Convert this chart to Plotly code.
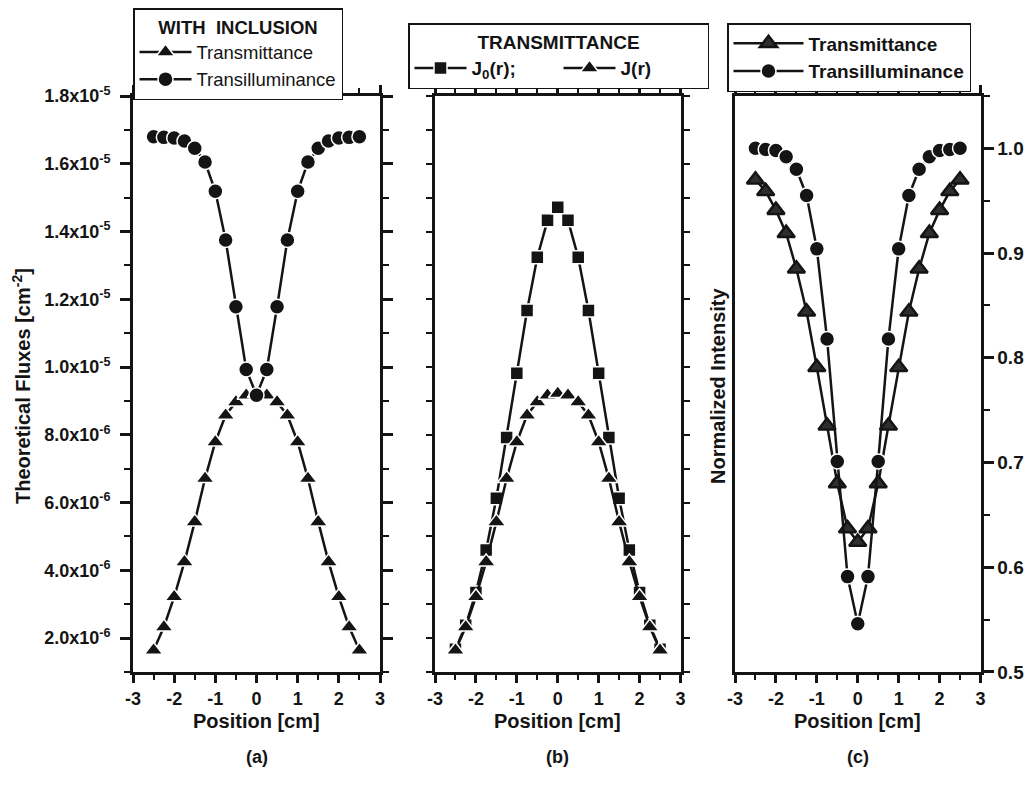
import plotly.graph_objects as go

W, H = 1032, 794

# ---------------- data ----------------
positions = [-2.5, -2.25, -2.0, -1.75, -1.5, -1.25, -1.0, -0.75, -0.5, -0.25, 0.0,
             0.25, 0.5, 0.75, 1.0, 1.25, 1.5, 1.75, 2.0, 2.25, 2.5]

# panel (a) fluxes, units of 1e-6 cm^-2
transmittance_a = [1.64, 2.33, 3.22, 4.25, 5.43, 6.71, 7.79, 8.58, 8.97, 9.17, 9.22,
                   9.17, 8.97, 8.58, 7.79, 6.71, 5.43, 4.25, 3.22, 2.33, 1.64]
transillum_a = [16.80, 16.78, 16.76, 16.67, 16.46, 16.05, 15.19, 13.75, 11.78, 9.93, 9.17,
                9.93, 11.78, 13.75, 15.19, 16.05, 16.46, 16.67, 16.76, 16.78, 16.80]

# panel (b) transmittance, units of 1e-6 cm^-2
j0_b = [1.67, 2.38, 3.35, 4.60, 6.13, 7.92, 9.82, 11.67, 13.24, 14.33, 14.72,
        14.33, 13.24, 11.67, 9.82, 7.92, 6.13, 4.60, 3.35, 2.38, 1.67]
j_b = [1.64, 2.33, 3.22, 4.25, 5.43, 6.71, 7.79, 8.58, 8.97, 9.17, 9.22,
       9.17, 8.97, 8.58, 7.79, 6.71, 5.43, 4.25, 3.22, 2.33, 1.64]

# panel (c) normalized intensity
transmittance_c = [0.970, 0.959, 0.941, 0.919, 0.885, 0.844, 0.791, 0.735, 0.680, 0.637, 0.624,
                   0.637, 0.680, 0.735, 0.791, 0.844, 0.885, 0.919, 0.941, 0.959, 0.970]
transillum_c = [1.000, 0.999, 0.998, 0.992, 0.980, 0.955, 0.904, 0.818, 0.701, 0.591, 0.546,
                0.591, 0.701, 0.818, 0.904, 0.955, 0.980, 0.992, 0.998, 0.999, 1.000]

flux_ticks = [2e-6, 4e-6, 6e-6, 8e-6, 1e-5, 1.2e-5, 1.4e-5, 1.6e-5, 1.8e-5]
flux_ticktext = ["2.0x10<sup>-6</sup>", "4.0x10<sup>-6</sup>", "6.0x10<sup>-6</sup>",
                 "8.0x10<sup>-6</sup>", "1.0x10<sup>-5</sup>", "1.2x10<sup>-5</sup>",
                 "1.4x10<sup>-5</sup>", "1.6x10<sup>-5</sup>", "1.8x10<sup>-5</sup>"]
x_ticks = [-3, -2, -1, 0, 1, 2, 3]
norm_ticks = [0.5, 0.6, 0.7, 0.8, 0.9, 1.0]
norm_ticktext = ["0.5", "0.6", "0.7", "0.8", "0.9", "1.0"]

# ---------------- helpers ----------------
FONT = "Liberation Sans"
INK = "#141414"

def px_x(p):
    return p / W

def px_y(p):
    return 1 - p / H

y_top, y_bot = px_y(96), px_y(672)
dom_a = [px_x(133), px_x(380)]
dom_b = [px_x(435), px_x(680.5)]
dom_c = [px_x(735), px_x(980.5)]

def scale(vals, f):
    return [v * f for v in vals]

fig = go.Figure()

line = dict(color=INK, width=2.5)

# panel a
fig.add_trace(go.Scatter(x=positions, y=scale(transmittance_a, 1e-6), mode="lines+markers",
                         name="Transmittance", line=line,
                         marker=dict(symbol="triangle-up", size=16, color=INK,
                                     line=dict(color="white", width=1.5)),
                         xaxis="x", yaxis="y", legend="legend"))
fig.add_trace(go.Scatter(x=positions, y=scale(transillum_a, 1e-6), mode="lines+markers",
                         name="Transilluminance", line=line,
                         marker=dict(symbol="circle", size=15, color=INK,
                                     line=dict(color="white", width=1.5)),
                         xaxis="x", yaxis="y", legend="legend"))
# panel b
fig.add_trace(go.Scatter(x=positions, y=scale(j0_b, 1e-6), mode="lines+markers",
                         name="<b>J<sub>0</sub>(r);</b>", line=line,
                         marker=dict(symbol="square", size=13, color=INK,
                                     line=dict(color="white", width=1.5)),
                         xaxis="x2", yaxis="y2", legend="legend2"))
fig.add_trace(go.Scatter(x=positions, y=scale(j_b, 1e-6), mode="lines+markers",
                         name="<b>J(r)</b>", line=line,
                         marker=dict(symbol="triangle-up", size=16, color=INK,
                                     line=dict(color="white", width=1.5)),
                         xaxis="x2", yaxis="y2", legend="legend2"))
# panel c
fig.add_trace(go.Scatter(x=positions, y=transmittance_c, mode="lines+markers",
                         name="<b>Transmittance</b>", line=line,
                         marker=dict(symbol="triangle-up", size=15, color="#2e2e2e",
                                     line=dict(color=INK, width=2.5)),
                         xaxis="x3", yaxis="y3", legend="legend3"))
fig.add_trace(go.Scatter(x=positions, y=transillum_c, mode="lines+markers",
                         name="<b>Transilluminance</b>", line=line,
                         marker=dict(symbol="circle", size=15, color=INK,
                                     line=dict(color="white", width=1.5)),
                         xaxis="x3", yaxis="y3", legend="legend3"))

xtickfont = dict(family=FONT, size=18, color=INK, weight="bold")

def xaxis(dom, anchor):
    return dict(domain=dom, anchor=anchor, range=[-3.0001, 3.0001], automargin=False,
                tickvals=x_ticks, ticktext=[str(v) for v in x_ticks],
                ticks="outside", ticklen=8, tickwidth=2.5, tickcolor=INK,
                minor=dict(dtick=0.5, tick0=0, ticks="outside", ticklen=5, tickwidth=2, tickcolor=INK),
                showline=True, linecolor=INK, linewidth=3, mirror="allticks",
                showgrid=False, zeroline=False, tickfont=xtickfont)

def flux_yaxis(dom_anchor, labels):
    return dict(domain=[y_bot, y_top], anchor=dom_anchor, range=[1e-6, 1.8001e-5], automargin=False,
                tickvals=flux_ticks, ticktext=flux_ticktext if labels else [""] * len(flux_ticks),
                showticklabels=labels, ticklabelstandoff=6,
                ticks="outside", ticklen=10, tickwidth=2.5, tickcolor=INK,
                minor=dict(dtick=1e-6, tick0=0, ticks="outside", ticklen=6, tickwidth=2, tickcolor=INK),
                showline=True, linecolor=INK, linewidth=3, mirror="allticks",
                showgrid=False, zeroline=False,
                tickfont=dict(family=FONT, size=18, color=INK, weight="bold"))

fig.update_layout(
    template="none",
    width=W, height=H,
    margin=dict(l=0, r=0, t=0, b=0, pad=0),
    paper_bgcolor="white", plot_bgcolor="white",
    font=dict(family=FONT, color=INK),
    xaxis=xaxis(dom_a, "y"),
    yaxis=flux_yaxis("x", True),
    xaxis2=xaxis(dom_b, "y2"),
    yaxis2=flux_yaxis("x2", False),
    xaxis3=xaxis(dom_c, "y3"),
    yaxis3=dict(domain=[y_bot, y_top], anchor="x3", side="right", range=[0.4999, 1.05],
                automargin=False,
                tickvals=norm_ticks, ticktext=norm_ticktext,
                ticks="outside", ticklen=10, tickwidth=2.5, tickcolor=INK,
                minor=dict(dtick=0.05, tick0=0, ticks="outside", ticklen=6, tickwidth=2, tickcolor=INK),
                showline=True, linecolor=INK, linewidth=3, mirror=True,
                showgrid=False, zeroline=False,
                tickfont=dict(family=FONT, size=19, color=INK, weight="bold")),
    yaxis4=dict(overlaying="y3", anchor="x3", side="left", range=[0.4999, 1.05],
                automargin=False, showticklabels=False,
                tick0=0, dtick=0.05, ticks="inside", ticklen=5, tickwidth=2, tickcolor=INK,
                showline=False, showgrid=False, zeroline=False),
    legend=dict(x=px_x(133), y=px_y(8), xanchor="left", yanchor="top",
                bgcolor="white", bordercolor=INK, borderwidth=1.5,
                font=dict(family=FONT, size=18.5, color=INK),
                title=dict(text="<b>WITH  INCLUSION</b>", side="top center",
                           font=dict(family=FONT, size=18.5, color=INK)),
                itemwidth=52, tracegroupgap=0),
    legend2=dict(x=px_x(408), y=px_y(23), xanchor="left", yanchor="top", orientation="h",
                 bgcolor="white", bordercolor=INK, borderwidth=1.5,
                 font=dict(family=FONT, size=19, color=INK),
                 title=dict(text="<b>TRANSMITTANCE</b>", side="top center",
                            font=dict(family=FONT, size=19, color=INK)),
                 itemwidth=52, entrywidth=82),
    legend3=dict(x=px_x(727), y=px_y(23), xanchor="left", yanchor="top",
                 bgcolor="white", bordercolor=INK, borderwidth=1.5,
                 font=dict(family=FONT, size=19, color=INK),
                 itemwidth=70, tracegroupgap=0),
)

annots = []
for dom, lab in [(dom_a, "(a)"), (dom_b, "(b)"), (dom_c, "(c)")]:
    cx = (dom[0] + dom[1]) / 2
    annots.append(dict(x=cx, y=px_y(721), xref="paper", yref="paper", showarrow=False,
                       xanchor="center", yanchor="middle",
                       text="<b>Position [cm]</b>", font=dict(family=FONT, size=20, color=INK)))
    annots.append(dict(x=cx, y=px_y(757), xref="paper", yref="paper", showarrow=False,
                       xanchor="center", yanchor="middle",
                       text="<b>" + lab + "</b>", font=dict(family=FONT, size=18, color=INK)))
annots.append(dict(x=px_x(21), y=px_y(386), xref="paper", yref="paper", showarrow=False,
                   xanchor="center", yanchor="middle",
                   textangle=-90, text="<b>Theoretical Fluxes [cm<sup>-2</sup>]</b>",
                   font=dict(family=FONT, size=20, color=INK)))
annots.append(dict(x=px_x(718), y=px_y(386), xref="paper", yref="paper", showarrow=False,
                   xanchor="center", yanchor="middle",
                   textangle=-90, text="<b>Normalized Intensity</b>",
                   font=dict(family=FONT, size=20, color=INK)))
fig.update_layout(annotations=annots)

fig.write_html("out.html")
